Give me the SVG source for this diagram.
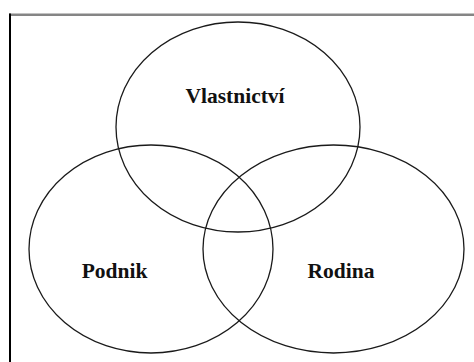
<svg xmlns="http://www.w3.org/2000/svg" width="474" height="362" viewBox="0 0 474 362">
<style>
.set{fill:none;stroke:#1a1a1a;stroke-width:1.3}
.lbl{font-family:"Liberation Serif","Times New Roman",serif;font-weight:bold;font-size:21.5px;fill:#111;text-anchor:middle}
</style>
<rect width="474" height="362" fill="#fff"/>
<g id="frame">
<line x1="9" y1="14.8" x2="474" y2="14.8" stroke="#858585" stroke-width="2.6"/>
<line x1="10" y1="13.5" x2="10" y2="362" stroke="#000" stroke-width="2"/>
</g>
<g id="connectors"></g>
<g id="vlastnictvi">
<ellipse class="set" cx="238" cy="127" rx="122" ry="105"/>
<text class="lbl" x="235" y="103">Vlastnictví</text>
</g>
<g id="podnik">
<ellipse class="set" cx="151" cy="249" rx="122" ry="104"/>
<text class="lbl" x="114.5" y="278">Podnik</text>
</g>
<g id="rodina">
<ellipse class="set" cx="333.5" cy="249" rx="130.5" ry="104"/>
<text class="lbl" x="341" y="278">Rodina</text>
</g>
</svg>
